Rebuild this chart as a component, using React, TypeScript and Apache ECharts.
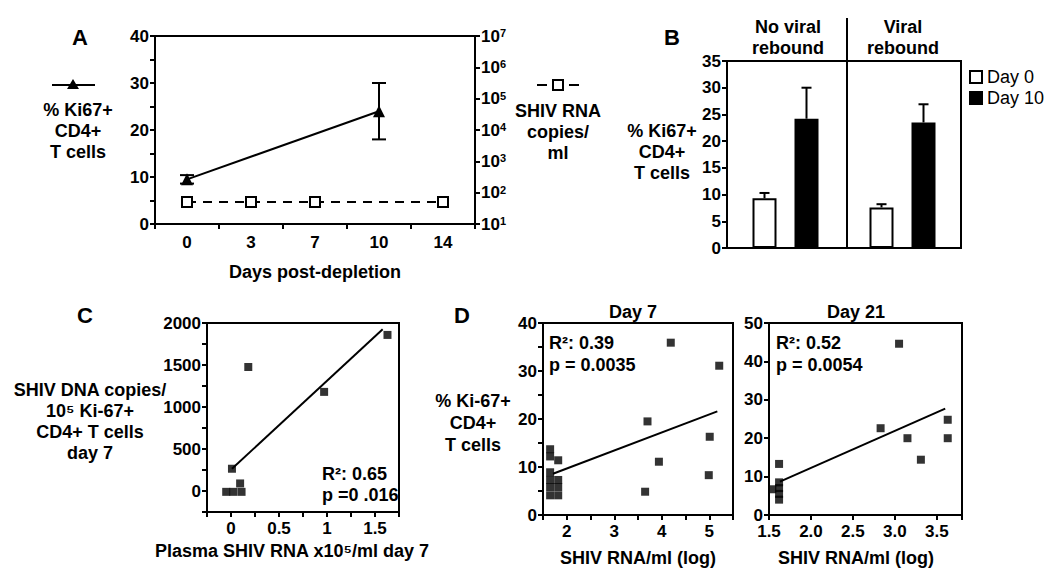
import React, { useEffect, useRef } from 'react';
import * as echarts from 'echarts';

const FONT = '"Liberation Sans", Arial, sans-serif';

// ---------- Panel A ----------
const daysA = ['0', '3', '7', '10', '14'];
const ki67A: (number | null)[] = [9.5, null, null, 24, null];
const ki67ErrA = [
  [0, 8.6, 10.4],
  [3, 18, 30],
];
const rnaA: (number | null)[] = [50, 50, 50, null, 50];

// ---------- Panel B ----------
const groupsB = ['No viral rebound', 'Viral rebound'];
const day0B = [9.3, 7.6];
const day10B = [24.2, 23.5];
const day0ErrB = [10.3, 8.2];
const day10ErrB = [30.0, 26.9];

// ---------- Panel C ----------
const cPoints = [
  [-0.05, -10], [0.025, -10], [0.11, -10], [0.095, 90], [0.01, 265],
  [0.18, 1476], [0.97, 1180], [1.63, 1858],
];
const cFit = [[0.01, 265], [1.58, 1925]];

// ---------- Panel D, day 7 ----------
const d7Points = [
  [1.65, 13.7], [1.65, 12.2], [1.82, 11.4], [1.65, 8.9], [1.65, 7.3], [1.65, 5.8], [1.65, 4.1],
  [1.82, 7.3], [1.82, 5.8], [1.82, 4.1],
  [4.19, 35.9], [5.21, 31.1], [3.70, 19.5], [5.01, 16.3], [3.94, 11.1], [3.65, 4.85], [4.99, 8.3],
];
const d7Fit = [[1.71, 8.6], [5.17, 21.6]];

// ---------- Panel D, day 21 ----------
const d21Points = [
  [3.05, 44.6], [2.83, 22.6], [3.15, 20.0], [3.31, 14.4], [3.63, 20.0], [3.63, 24.8], [1.62, 13.3],
  [1.54, 6.7], [1.62, 8.5], [1.62, 7.0], [1.62, 5.5], [1.62, 4.0],
];
const d21Fit = [[1.63, 8.7], [3.6, 27.7]];

const axisLine = { show: true, onZero: false, lineStyle: { color: '#000', width: 2 } };
const axisTick = { show: true, length: 5, inside: false, lineStyle: { color: '#000', width: 2 } };
const lab = { color: '#000', fontSize: 17, fontWeight: 'bold' as const, fontFamily: FONT, margin: 6 };
const labX = { ...lab, margin: 8 };
const noSplit = { show: false };
const gridBase = { show: true, borderColor: '#000', borderWidth: 2, containLabel: false, outerBoundsMode: 'none' };

function txt(text: string, x: number, y: number, extra: any = {}) {
  return {
    type: 'text',
    x,
    y,
    silent: true,
    style: {
      text,
      fill: '#000',
      font: `bold ${extra.size || 18}px ${FONT}`,
      textAlign: extra.align || 'center',
      textVerticalAlign: 'middle',
      lineHeight: extra.lh || 21,
    },
  };
}

function errRenderA(params: any, api: any) {
  const c = api.value(0);
  const lo = api.coord([c, api.value(1)]);
  const hi = api.coord([c, api.value(2)]);
  const hw = 7;
  const st = { stroke: '#000', lineWidth: 2 };
  return {
    type: 'group',
    children: [
      { type: 'line', shape: { x1: lo[0], y1: lo[1], x2: hi[0], y2: hi[1] }, style: st },
      { type: 'line', shape: { x1: lo[0] - hw, y1: lo[1], x2: lo[0] + hw, y2: lo[1] }, style: st },
      { type: 'line', shape: { x1: hi[0] - hw, y1: hi[1], x2: hi[0] + hw, y2: hi[1] }, style: st },
    ],
  };
}

function errRenderB(params: any, api: any) {
  const c = api.value(0);
  const base = api.coord([c, api.value(1)]);
  const hi = api.coord([c, api.value(2)]);
  const off = api.value(3) * 21;
  const x = base[0] + off;
  const hw = 5;
  const st = { stroke: '#000', lineWidth: 2 };
  return {
    type: 'group',
    children: [
      { type: 'line', shape: { x1: x, y1: base[1], x2: x, y2: hi[1] }, style: st },
      { type: 'line', shape: { x1: x - hw, y1: hi[1], x2: x + hw, y2: hi[1] }, style: st },
    ],
  };
}

export default function App() {
  const ref = useRef<HTMLDivElement>(null);
  useEffect(() => {
    if (!ref.current) return;
    const chart = echarts.init(ref.current, undefined, { renderer: 'svg' });

    const option: any = {
      animation: false,
      backgroundColor: '#fff',
      textStyle: { fontFamily: FONT },
      grid: [
        { ...gridBase, left: 155, top: 36, width: 320, height: 188 },
        { ...gridBase, left: 727, top: 61, width: 234, height: 187 },
        { ...gridBase, left: 207, top: 323, width: 192, height: 189 },
        { ...gridBase, left: 543, top: 323, width: 190, height: 192 },
        { ...gridBase, left: 769, top: 323, width: 193, height: 192 },
      ],
      xAxis: [
        {
          gridIndex: 0, type: 'category', data: daysA, boundaryGap: true,
          axisLine, axisTick: { ...axisTick, alignWithLabel: false }, axisLabel: { ...lab, margin: 10 }, splitLine: noSplit,
        },
        {
          gridIndex: 1, type: 'category', data: groupsB, boundaryGap: true,
          axisLine, axisTick: { show: false }, axisLabel: { show: false }, splitLine: noSplit,
        },
        {
          gridIndex: 2, type: 'value', min: -0.25, max: 1.75, interval: 0.25,
          axisLine, axisTick, splitLine: noSplit,
          axisLabel: {
            ...labX,
            formatter: (v: number) => {
              const r = Math.round(v * 2) / 2;
              if (Math.abs(v - r) > 1e-9 || v < 0) return '';
              return String(r);
            },
          },
        },
        {
          gridIndex: 3, type: 'value', min: 1.5, max: 5.5, interval: 0.5,
          axisLine, axisTick, splitLine: noSplit,
          axisLabel: { ...labX, formatter: (v: number) => (Number.isInteger(v) ? String(v) : '') },
        },
        {
          gridIndex: 4, type: 'value', min: 1.5, max: 3.8, interval: 0.5,
          axisLine, axisTick, splitLine: noSplit,
          axisLabel: {
            ...labX,
            formatter: (v: number) => (Math.abs(v * 2 - Math.round(v * 2)) < 1e-9 ? v.toFixed(1) : ''),
          },
        },
      ],
      yAxis: [
        {
          gridIndex: 0, type: 'value', min: 0, max: 40, interval: 5,
          axisLine, axisTick, splitLine: noSplit,
          axisLabel: { ...lab, formatter: (v: number) => (v % 10 === 0 ? String(v) : '') },
        },
        {
          gridIndex: 0, type: 'log', logBase: 10, min: 10, max: 1e7, splitNumber: 6, position: 'right',
          axisLine, axisTick, splitLine: noSplit, minorTick: { show: false },
          axisLabel: {
            ...lab,
            formatter: (v: number) => `{b|10}{s|${Math.round(Math.log10(v))}}`,
            rich: {
              b: { fontSize: 17, fontWeight: 'bold', fontFamily: FONT, color: '#000' },
              s: { fontSize: 11, fontWeight: 'bold', fontFamily: FONT, color: '#000', verticalAlign: 'top' },
            },
          },
        },
        {
          gridIndex: 1, type: 'value', min: 0, max: 35, interval: 5,
          axisLine, axisTick, splitLine: noSplit, axisLabel: lab,
        },
        {
          gridIndex: 2, type: 'value', min: -250, max: 2000, interval: 250,
          axisLine, axisTick, splitLine: noSplit,
          axisLabel: { ...lab, formatter: (v: number) => (v >= 0 && v % 500 === 0 ? String(v) : '') },
        },
        {
          gridIndex: 3, type: 'value', min: 0, max: 40, interval: 5,
          axisLine, axisTick, splitLine: noSplit,
          axisLabel: { ...lab, formatter: (v: number) => (v % 10 === 0 ? String(v) : '') },
        },
        {
          gridIndex: 4, type: 'value', min: 0, max: 50, interval: 10,
          axisLine, axisTick, splitLine: noSplit, axisLabel: lab,
        },
      ],
      legend: {
        data: ['Day 0', 'Day 10'],
        orient: 'vertical',
        left: 964,
        top: 63,
        itemWidth: 12,
        itemHeight: 12,
        itemGap: 3,
        icon: 'rect',
        textStyle: { color: '#000', fontSize: 18, fontFamily: FONT },
      },
      series: [
        // A
        {
          type: 'line', xAxisIndex: 0, yAxisIndex: 0, data: ki67A, connectNulls: true,
          symbol: 'triangle', symbolSize: 12, itemStyle: { color: '#000' },
          lineStyle: { color: '#000', width: 2 }, z: 5,
        },
        {
          type: 'custom', xAxisIndex: 0, yAxisIndex: 0, data: ki67ErrA,
          encode: { x: 0, y: [1, 2] }, renderItem: errRenderA, z: 4,
        },
        {
          type: 'line', xAxisIndex: 0, yAxisIndex: 1, data: rnaA, connectNulls: true,
          symbol: 'rect', symbolSize: 10,
          itemStyle: { color: '#fff', borderColor: '#000', borderWidth: 2 },
          lineStyle: { color: '#000', width: 2, type: [9, 7] }, z: 5,
        },
        // B
        {
          name: 'Day 0', type: 'bar', xAxisIndex: 1, yAxisIndex: 2, data: day0B,
          barWidth: 24, barGap: '75%',
          itemStyle: { color: '#fff', borderColor: '#000', borderWidth: 2 },
        },
        {
          name: 'Day 10', type: 'bar', xAxisIndex: 1, yAxisIndex: 2, data: day10B,
          barWidth: 24, barGap: '75%',
          itemStyle: { color: '#000', borderColor: '#000', borderWidth: 2 },
        },
        {
          type: 'custom', xAxisIndex: 1, yAxisIndex: 2,
          data: [
            ...day0B.map((v, i) => [i, v, day0ErrB[i], -1]),
            ...day10B.map((v, i) => [i, v, day10ErrB[i], 1]),
          ],
          encode: { x: 0, y: [1, 2] }, renderItem: errRenderB, z: 4,
        },
        // C
        {
          type: 'scatter', xAxisIndex: 2, yAxisIndex: 3, data: cPoints,
          symbol: 'rect', symbolSize: 8, itemStyle: { color: '#000' },
        },
        {
          type: 'line', xAxisIndex: 2, yAxisIndex: 3, data: cFit, symbol: 'none',
          lineStyle: { color: '#000', width: 2 },
        },
        // D7
        {
          type: 'scatter', xAxisIndex: 3, yAxisIndex: 4, data: d7Points,
          symbol: 'rect', symbolSize: 8, itemStyle: { color: '#000' },
        },
        {
          type: 'line', xAxisIndex: 3, yAxisIndex: 4, data: d7Fit, symbol: 'none',
          lineStyle: { color: '#000', width: 2 },
        },
        // D21
        {
          type: 'scatter', xAxisIndex: 4, yAxisIndex: 5, data: d21Points,
          symbol: 'rect', symbolSize: 8, itemStyle: { color: '#000' },
        },
        {
          type: 'line', xAxisIndex: 4, yAxisIndex: 5, data: d21Fit, symbol: 'none',
          lineStyle: { color: '#000', width: 2 },
        },
      ],
      graphic: [
        // Panel A
        txt('A', 80, 37, { size: 22 }),
        { type: 'line', silent: true, shape: { x1: 52, y1: 85, x2: 95, y2: 85 }, style: { stroke: '#000', lineWidth: 2 } },
        { type: 'polygon', silent: true, shape: { points: [[73, 79], [67, 89], [79, 89]] }, style: { fill: '#000' } },
        txt('% Ki67+\nCD4+\nT cells', 78, 131),
        { type: 'line', silent: true, shape: { x1: 537, y1: 85, x2: 547, y2: 85 }, style: { stroke: '#000', lineWidth: 2 } },
        { type: 'rect', silent: true, shape: { x: 553, y: 80, width: 10, height: 10 }, style: { fill: '#fff', stroke: '#000', lineWidth: 2 } },
        { type: 'line', silent: true, shape: { x1: 569, y1: 85, x2: 579, y2: 85 }, style: { stroke: '#000', lineWidth: 2 } },
        txt('SHIV RNA\ncopies/\nml', 558, 132),
        txt('Days post-depletion', 315, 272),
        // Panel B
        txt('B', 672, 37, { size: 22 }),
        txt('No viral\nrebound', 788, 37),
        txt('Viral\nrebound', 903, 37),
        { type: 'line', silent: true, shape: { x1: 847, y1: 18, x2: 847, y2: 248 }, style: { stroke: '#000', lineWidth: 2 } },
        txt('% Ki67+\nCD4+\nT cells', 662, 152),
        // Panel C
        txt('C', 85, 315, { size: 22 }),
        txt('SHIV DNA copies/\n10\u2075 Ki-67+\nCD4+ T cells\nday 7', 90, 421),
        txt('Plasma SHIV RNA x10\u2075/ml day 7', 292, 551),
        txt('R\u00b2: 0.65\np =0 .016', 322, 484, { align: 'left' }),
        // Panel D
        txt('D', 462, 315, { size: 22 }),
        txt('% Ki-67+\nCD4+\nT cells', 473, 423, { lh: 22 }),
        txt('Day 7', 633, 312),
        txt('Day 21', 856, 312),
        txt('SHIV RNA/ml (log)', 638, 558),
        txt('SHIV RNA/ml (log)', 856, 558),
        txt('R\u00b2: 0.39\np = 0.0035', 549, 354, { align: 'left', lh: 22 }),
        txt('R\u00b2: 0.52\np = 0.0054', 776, 354, { align: 'left', lh: 22 }),
      ],
    };

    chart.setOption(option);
    return () => chart.dispose();
  }, []);

  return (
    <div
      ref={ref}
      style={{ position: 'fixed', left: 0, top: 0, width: 1050, height: 576, background: '#fff' }}
    />
  );
}
